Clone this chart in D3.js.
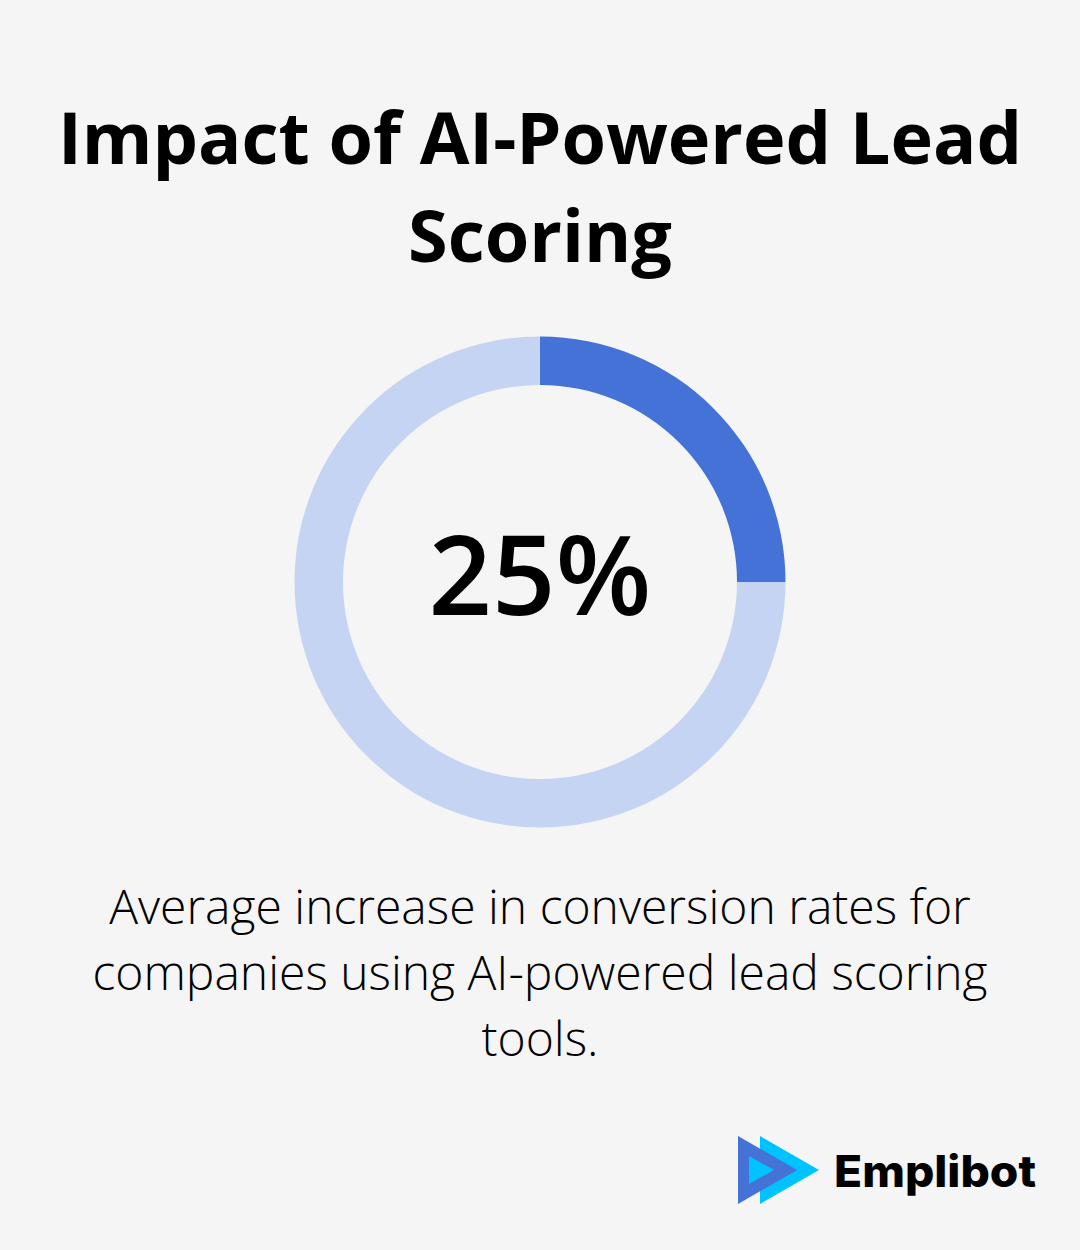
<!DOCTYPE html>
<html>
<head>
<meta charset="utf-8">
<script src="https://cdn.jsdelivr.net/npm/d3@7"></script>
<style>
  html, body { margin: 0; padding: 0; background: #f5f5f5; }
  svg { display: block; }
  text { font-family: "Open Sans", sans-serif; text-anchor: middle; }
</style>
</head>
<body>
<svg id="chart" width="1080" height="1250"></svg>
<script>
var titleLines = ["Impact of AI-Powered Lead", "Scoring"];
var captionLines = ["Average increase in conversion rates for", "companies using AI-powered lead scoring", "tools."];
var segmentLabels = ["increase", "rest"];
var segmentValues = [25, 75];
var segmentColors = ["#4472d6", "#c5d4f2"];
var centerLabel = "25%";
var brandName = "Emplibot";

var svg = d3.select("#chart");

svg.selectAll("text.title").data(titleLines).enter().append("text")
  .attr("class", "title")
  .attr("x", 540)
  .attr("y", (d, i) => 164 + i * 98)
  .attr("font-size", 72)
  .attr("font-weight", 700)
  .attr("fill", "#000")
  .text(d => d);

var pie = d3.pie().sort(null).value(d => d);
var arc = d3.arc().innerRadius(197).outerRadius(245.5);

svg.append("g")
  .attr("transform", "translate(540,582)")
  .selectAll("path")
  .data(pie(segmentValues))
  .enter().append("path")
  .attr("d", arc)
  .attr("fill", (d, i) => segmentColors[i]);

svg.append("text")
  .attr("x", 540)
  .attr("y", 614.5)
  .attr("font-size", 111)
  .attr("font-weight", 600)
  .attr("fill", "#000")
  .text(centerLabel);

svg.selectAll("text.caption").data(captionLines).enter().append("text")
  .attr("class", "caption")
  .attr("x", 540)
  .attr("y", (d, i) => 924 + i * 66)
  .attr("font-size", 48)
  .attr("font-weight", 300)
  .attr("fill", "#000")
  .text(d => d);

// logo, back triangle first
var logo = svg.append("g");
logo.append("path").attr("d", "M760 1136 L819 1170 L760 1204 Z").attr("fill", "#00c2ff");
logo.append("path").attr("d", "M738 1136 L797 1170 L738 1204 Z").attr("fill", "#4472d6");
logo.append("path").attr("d", "M749 1156 L774 1170 L749 1184 Z").attr("fill", "#00c2ff");

svg.append("text")
  .attr("x", 834)
  .attr("y", 1187)
  .attr("font-size", 44)
  .attr("font-weight", 800)
  .attr("fill", "#000")
  .attr("textLength", 202)
  .attr("lengthAdjust", "spacingAndGlyphs")
  .style("font-family", "Inter, sans-serif")
  .style("text-anchor", "start")
  .text(brandName);
</script>
</body>
</html>
